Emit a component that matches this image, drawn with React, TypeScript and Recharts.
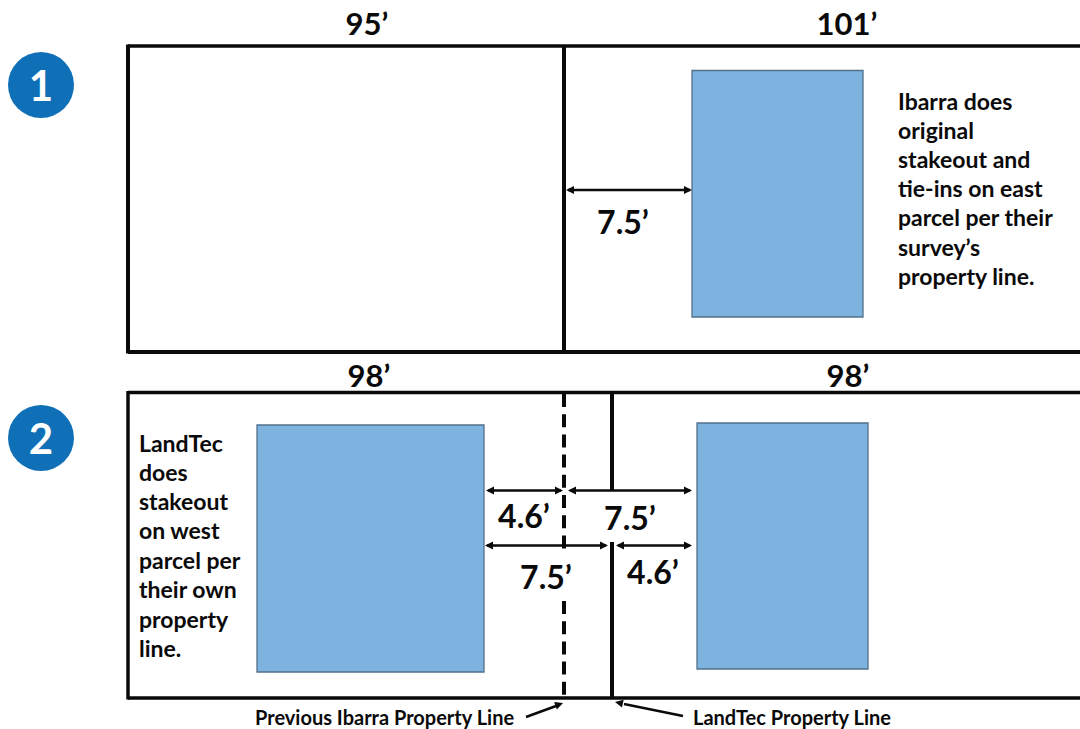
import React from 'react';
import { ScatterChart, Scatter, XAxis, YAxis, ReferenceArea, ReferenceLine } from 'recharts';

const INK = '#0a0a0a';
const FONT = 'Lato, Carlito, "Open Sans", sans-serif';

// Parcel outlines and property lines: [x1, y1, x2, y2, strokeWidth, dash]
const parcelLines: [number, number, number, number, number, string?][] = [
  [128, 46, 1080, 46, 3.5],
  [128, 352, 1080, 352, 4],
  [128, 44.5, 128, 353.5, 4],
  [564, 46, 564, 352, 4],
  [128, 392.5, 1080, 392.5, 3.5],
  [128, 698, 1080, 698, 3.5],
  [128, 391, 128, 699.5, 3.5],
  [612, 394, 612, 490.5, 4],
  [612, 542, 612, 698, 4],
  [564, 394, 564, 549, 4, '13 7.2'],
  [564, 601, 564, 697, 4, '13 7.2'],
];

// Measurement arrows: [x1, y1, x2, y2]
const dimensionLines: [number, number, number, number][] = [
  [568, 190, 690, 190],
  [488, 490.5, 561, 490.5],
  [570, 490.5, 690, 490.5],
  [487, 545.5, 606, 545.5],
  [618, 545.5, 690, 545.5],
];
const leaderLines: [number, number, number, number][] = [
  [526, 717, 556, 706],
  [683, 716, 624, 704],
];

// Arrow heads: tip position and pointing angle in degrees
const arrowHeads = [
  { x: 566, y: 190, angle: 180 },
  { x: 692, y: 190, angle: 0 },
  { x: 486, y: 490.5, angle: 180 },
  { x: 563, y: 490.5, angle: 0 },
  { x: 568, y: 490.5, angle: 180 },
  { x: 692, y: 490.5, angle: 0 },
  { x: 485, y: 545.5, angle: 180 },
  { x: 608, y: 545.5, angle: 0 },
  { x: 616, y: 545.5, angle: 180 },
  { x: 692, y: 545.5, angle: 0 },
  { x: 563, y: 703, angle: -20 },
  { x: 615, y: 702, angle: 192 },
];

// Footprints
const buildings = [
  { x1: 692, x2: 863, y1: 70.5, y2: 317 },
  { x1: 257, x2: 484, y1: 425, y2: 672 },
  { x1: 697, x2: 868, y1: 423, y2: 669 },
];

// Step badges
const badges = [
  { x: 41, y: 85, label: '1' },
  { x: 41, y: 438, label: '2' },
];

// Dimension labels
const dimensionLabels = [
  { x: 367, y: 23, text: '95’', size: 31 },
  { x: 847, y: 23, text: '101’', size: 31 },
  { x: 369, y: 375, text: '98’', size: 31 },
  { x: 848, y: 375, text: '98’', size: 31 },
  { x: 623, y: 221, text: '7.5’', size: 32 },
  { x: 524, y: 515, text: '4.6’', size: 32 },
  { x: 630, y: 517, text: '7.5’', size: 32 },
  { x: 546, y: 576, text: '7.5’', size: 32 },
  { x: 653, y: 571, text: '4.6’', size: 32 },
];

// Notes (left aligned)
const noteOne = ['Ibarra does', 'original', 'stakeout and', 'tie-ins on east', 'parcel per their', 'survey’s', 'property line.'];
const noteOneY = [101, 130, 159, 188, 217, 247, 276];
const noteTwo = ['LandTec', 'does', 'stakeout', 'on west', 'parcel per', 'their own', 'property', 'line.'];
const noteTwoY = [443, 472, 501, 530, 560, 589, 619, 648];
const noteRows = [
  ...noteOne.map((text, i) => ({ x: 898, y: noteOneY[i], text, size: 23 })),
  ...noteTwo.map((text, i) => ({ x: 139, y: noteTwoY[i], text, size: 23 })),
];

// Captions under the second plan
const captions = [
  { x: 255, y: 717, text: 'Previous Ibarra Property Line', size: 20 },
  { x: 693, y: 717, text: 'LandTec Property Line', size: 20 },
];

const Head = (props: any) => {
  const { cx, cy, payload } = props;
  return (
    <polygon
      points="0,0 -8,-4 -8,4"
      fill={INK}
      transform={`translate(${cx},${cy}) rotate(${payload.angle})`}
    />
  );
};

const Badge = (props: any) => {
  const { cx, cy, payload } = props;
  return (
    <g>
      <circle cx={cx} cy={cy} r={33} fill="#0f70b7" />
      <text x={cx} y={cy} fill="#fff" fontFamily={FONT} fontWeight={700} fontSize={42} textAnchor="middle" dominantBaseline="central">
        {payload.label}
      </text>
    </g>
  );
};

const makeText = (anchor: 'start' | 'middle') => (props: any) => {
  const { cx, cy, payload } = props;
  return (
    <text x={cx} y={cy} fill={INK} fontFamily={FONT} fontWeight={700} fontSize={payload.size} textAnchor={anchor} dominantBaseline="central">
      {payload.text}
    </text>
  );
};
const CenterText = makeText('middle');
const StartText = makeText('start');

export default function App() {
  return (
    <div style={{ position: 'absolute', left: 0, top: 0, width: 1080, height: 729, background: '#fff', overflow: 'hidden' }}>
      <ScatterChart width={1080} height={729} margin={{ top: 0, right: 0, bottom: 0, left: 0 }}>
        <XAxis type="number" dataKey="x" domain={[0, 1080]} hide />
        <YAxis type="number" dataKey="y" domain={[0, 729]} reversed hide />
        {buildings.map((b, i) => (
          <ReferenceArea key={`b${i}`} x1={b.x1} x2={b.x2} y1={b.y1} y2={b.y2} fill="#7fb3df" fillOpacity={1} stroke="#52708c" strokeWidth={1.3} />
        ))}
        {parcelLines.map(([x1, y1, x2, y2, w, dash], i) => (
          <ReferenceLine key={`p${i}`} segment={[{ x: x1, y: y1 }, { x: x2, y: y2 }]} stroke={INK} strokeWidth={w} strokeDasharray={dash} />
        ))}
        {dimensionLines.map(([x1, y1, x2, y2], i) => (
          <ReferenceLine key={`d${i}`} segment={[{ x: x1, y: y1 }, { x: x2, y: y2 }]} stroke={INK} strokeWidth={2.6} />
        ))}
        {leaderLines.map(([x1, y1, x2, y2], i) => (
          <ReferenceLine key={`l${i}`} segment={[{ x: x1, y: y1 }, { x: x2, y: y2 }]} stroke={INK} strokeWidth={2.4} />
        ))}
        <Scatter data={arrowHeads} shape={Head} isAnimationActive={false} />
        <Scatter data={badges} shape={Badge} isAnimationActive={false} />
        <Scatter data={dimensionLabels} shape={CenterText} isAnimationActive={false} />
        <Scatter data={noteRows} shape={StartText} isAnimationActive={false} />
        <Scatter data={captions} shape={StartText} isAnimationActive={false} />
      </ScatterChart>
    </div>
  );
}
